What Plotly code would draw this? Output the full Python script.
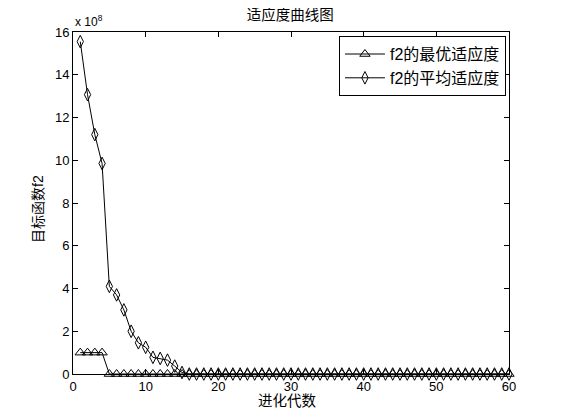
import plotly.graph_objects as go

# data (values in units of 1e8)
generations = list(range(1, 61))
best_fitness = [1.0, 1.0, 1.0, 1.0] + [0.0] * 56
avg_fitness = [15.55, 13.07, 11.2, 9.85, 4.1, 3.7, 3.0, 2.0, 1.46, 1.25,
               0.78, 0.73, 0.65, 0.37, 0.07] + [0.0] * 45
x_ticks = [0, 10, 20, 30, 40, 50, 60]
y_ticks = [0, 2, 4, 6, 8, 10, 12, 14, 16]

FONT = "Liberation Sans, Arial, Noto Sans CJK SC, sans-serif"

fig = go.Figure()
fig.add_trace(go.Scatter(
    x=generations, y=best_fitness, mode="lines+markers", name="f2的最优适应度",
    line=dict(color="black", width=1),
    marker=dict(symbol="triangle-up-open", size=9, color="black", line=dict(width=1)),
    cliponaxis=False))
fig.add_trace(go.Scatter(
    x=generations, y=avg_fitness, mode="lines+markers", name="f2的平均适应度",
    line=dict(color="black", width=1),
    marker=dict(symbol="diamond-tall-open", size=9, color="black", line=dict(width=1)),
    cliponaxis=False))

axis_common = dict(showgrid=False, zeroline=False, showline=True, linecolor="black",
                   linewidth=1, mirror="ticks", ticks="inside", ticklen=5,
                   tickcolor="black", automargin=False,
                   tickfont=dict(size=13, color="black", family=FONT))

fig.update_layout(
    width=561, height=420,
    paper_bgcolor="white", plot_bgcolor="white",
    margin=dict(l=65, r=60, t=24, b=54, autoexpand=False),
    font=dict(family=FONT, color="black", size=12),
    title=dict(text="适应度曲线图", xref="container", yref="container",
               x=0.503, xanchor="center", y=0.983, yanchor="middle",
               font=dict(size=14.5, family=FONT)),
    xaxis=dict(range=[0, 60], tickvals=x_ticks, **axis_common),
    yaxis=dict(range=[0, 16], tickvals=y_ticks, **axis_common),
    legend=dict(x=0.993, y=0.988, xanchor="right", yanchor="top",
                bgcolor="white", bordercolor="black", borderwidth=1,
                font=dict(size=16, family=FONT), tracegroupgap=0,
                itemwidth=40),
    showlegend=True,
)
# axis labels
fig.add_annotation(text="进化代数", xref="paper", yref="paper", x=0.493, y=0,
                   xanchor="center", yanchor="middle", yshift=-27, showarrow=False,
                   font=dict(size=14.5, family=FONT, color="black"))
fig.add_annotation(text="目标函数f2", xref="paper", yref="paper", x=0, y=0.4825,
                   xanchor="center", yanchor="middle", xshift=-35, textangle=-90,
                   showarrow=False, font=dict(size=14, family=FONT, color="black"))
# exponent label
fig.add_annotation(text="x 10<sup>8</sup>", xref="paper", yref="paper", x=0.0, y=1.0,
                   xanchor="left", yanchor="middle", yshift=11, showarrow=False,
                   font=dict(size=12, family=FONT, color="black"))

fig.write_html("out.html")
